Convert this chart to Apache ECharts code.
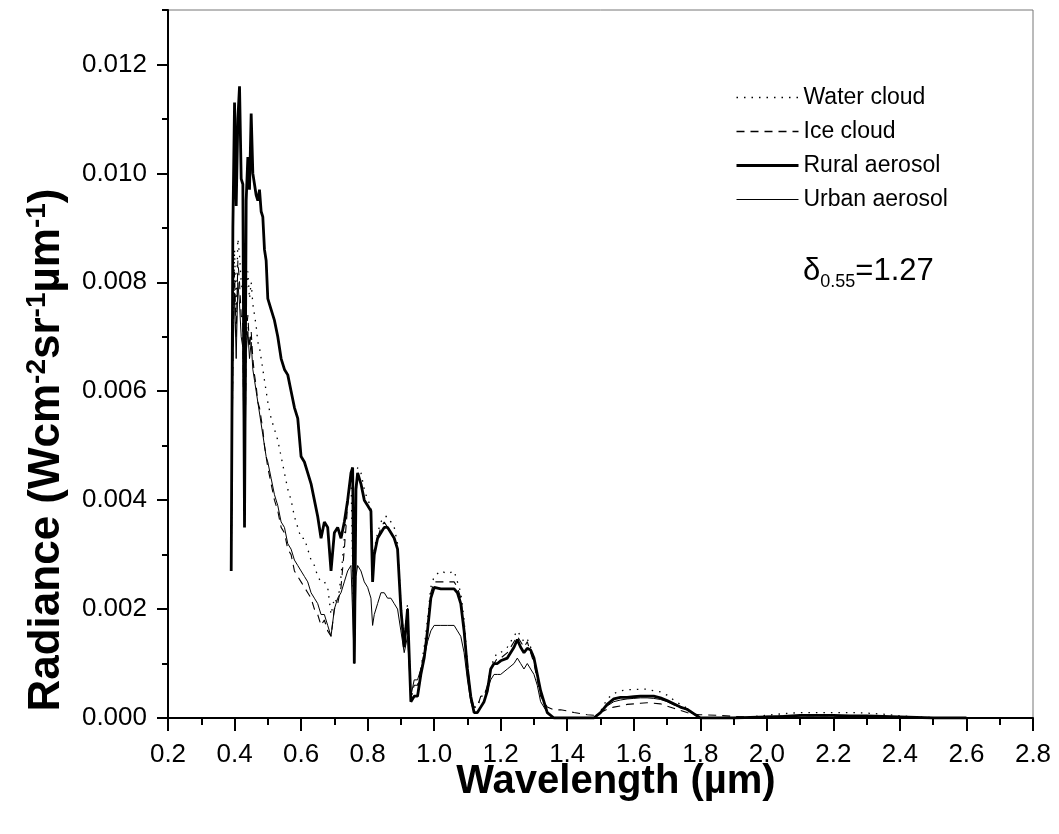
<!DOCTYPE html>
<html>
<head>
<meta charset="utf-8">
<script src="https://cdn.jsdelivr.net/npm/echarts@6/dist/echarts.min.js"></script>
<style>html,body{margin:0;padding:0;background:#fff}#c{width:1059px;height:834px}</style>
</head>
<body>
<div id="c"></div>
<script>
// Wavelength grid (µm)
const wavelength = [
  0.390,0.395,0.400,0.405,0.410,0.415,0.420,0.425,0.430,0.435,0.440,0.445,0.450,0.455,0.460,0.465,0.470,0.475,0.480,0.485,0.490,0.495,0.500,
  0.51,0.52,0.53,0.54,0.55,0.56,0.57,0.58,0.59,0.60,0.61,0.62,0.63,0.64,0.65,0.66,0.67,0.68,0.69,0.70,0.71,0.72,0.73,0.74,0.75,
  0.755,0.760,0.765,
  0.77,0.78,0.79,0.80,0.81,
  0.815,
  0.82,0.83,0.84,0.85,0.86,0.87,0.88,0.89,0.90,0.91,0.92,0.93,0.94,0.95,0.96,0.97,0.98,0.99,1.00,
  1.02,1.04,1.06,
  1.07,1.08,1.09,1.10,1.11,1.12,1.13,1.14,1.15,1.16,1.17,1.18,1.19,1.20,
  1.22,1.24,
  1.25,1.26,1.27,1.28,1.29,1.30,1.31,1.32,
  1.34,1.36,1.38,1.40,1.42,1.44,1.46,1.48,1.50,1.52,1.54,1.56,1.58,1.60,1.62,1.64,1.66,1.68,1.70,1.72,1.74,1.76,1.78,1.80,
  1.85,1.90,1.95,2.00,2.05,2.10,2.15,2.20,2.25,2.30,2.35,2.40,2.45,2.50,2.55,2.60
];

const waterCloud = [
  0.0027,0.0070,0.0086,0.0074,0.0088,0.0085,0.0080,0.0078,0.0040,0.0078,0.0082,0.0077,0.0080,0.0076,0.0074,0.0072,0.0069,0.0068,0.0066,0.0064,0.0062,0.0060,0.0058,
  0.0055,0.0053,0.0051,0.0048,0.0045,0.0042,0.0040,0.0037,0.0035,0.0033,0.0033,0.0031,0.0029,0.0028,0.0026,0.0025,0.0025,0.0024,0.0019,0.0022,0.0021,0.0026,0.0033,0.0040,0.0045,
  0.0045,0.0011,0.0042,
  0.0046,0.0045,0.0042,0.0040,0.0039,
  0.0027,
  0.0031,0.0034,0.0036,0.0037,0.0037,0.0036,0.0035,0.0032,0.0021,0.0014,0.0021,0.0004,0.0005,0.0005,0.0009,0.0013,0.0018,0.0024,0.0026,
  0.0027,0.00265,0.0027,
  0.0025,0.0023,0.0018,0.0010,0.0004,0.0002,0.0002,0.0004,0.0004,0.0006,0.0009,0.0011,0.0012,0.0012,
  0.0013,0.0015,
  0.0016,0.0015,0.0014,0.00145,0.0013,0.0011,0.0008,0.0005,
  0.0001,0,0,0,0,0,0,0,0.00012,0.00035,0.00045,0.0005,0.00052,0.00052,0.00053,0.00053,0.0005,0.00048,0.00042,0.00033,0.00025,0.00018,0.00008,0,
  0,0,0.00002,0.00005,0.00008,0.0001,0.0001,0.0001,0.0001,0.00009,0.00007,0.00004,0.00002,0.00001,0,0
];

const iceCloud = [
  0.0027,0.0068,0.0082,0.0070,0.0084,0.0080,0.0074,0.0072,0.0038,0.0070,0.0074,0.0068,0.0071,0.0066,0.0063,0.0061,0.0058,0.0057,0.0055,0.0053,0.0050,0.0048,0.0046,
  0.0043,0.0040,0.0038,0.0035,0.0034,0.0031,0.0030,0.0027,0.0026,0.0025,0.0024,0.0023,0.0022,0.0020,0.0019,0.0017,0.0018,0.0016,0.0015,0.0020,0.0021,0.0024,0.0031,0.0039,0.0044,
  0.0045,0.0010,0.0041,
  0.0045,0.0043,0.0040,0.0039,0.0038,
  0.0026,
  0.0030,0.0033,0.0035,0.0036,0.0035,0.0034,0.0033,0.0031,0.0020,0.0013,0.0020,0.0004,0.0006,0.0006,0.0009,0.0012,0.0016,0.0023,0.0025,
  0.0025,0.0025,0.0025,
  0.0024,0.0022,0.0017,0.0010,0.0004,0.0002,0.0002,0.0004,0.0004,0.0006,0.0009,0.0010,0.0011,0.0011,
  0.0012,0.0014,
  0.0015,0.0014,0.0013,0.0014,0.0012,0.0010,0.0007,0.0004,
  0.0002,0.00015,0.00015,0.00013,0.0001,0.00008,0.00006,0.00005,0.0001,0.00016,0.0002,0.00022,0.00025,0.00026,0.00027,0.00028,0.00027,0.00026,0.00022,0.00018,0.00014,0.0001,0.00007,0.00006,
  0.00005,0.00003,0.00002,0.00003,0.00004,0.00004,0.00004,0.00004,0.00003,0.00003,0.00002,0.00001,0.00001,0,0,0
];

const ruralAerosol = [
  0.0027,0.0090,0.0113,0.0094,0.0110,0.0116,0.0099,0.0098,0.0035,0.0095,0.0103,0.0097,0.0111,0.0100,0.0098,0.0096,0.0095,0.0097,0.0093,0.0092,0.0086,0.0084,0.0077,
  0.0075,0.0073,0.0070,0.0066,0.0064,0.0063,0.0060,0.0057,0.0055,0.0048,0.0047,0.0045,0.0043,0.0040,0.0037,0.0033,0.0036,0.0035,0.0027,0.0034,0.0035,0.0033,0.0036,0.0040,0.0045,
  0.0046,0.0010,0.0042,
  0.0045,0.0043,0.0040,0.0039,0.0038,
  0.0025,
  0.0030,0.0033,0.0034,0.0035,0.0035,0.0034,0.0033,0.0031,0.0020,0.0013,0.0020,0.0003,0.0004,0.0004,0.0008,0.0011,0.0016,0.0022,0.0024,
  0.00237,0.00237,0.00237,
  0.0023,0.0021,0.0016,0.0009,0.0004,0.0001,0.0001,0.0002,0.0003,0.0005,0.0009,0.0010,0.0010,0.00105,
  0.0011,0.0013,
  0.00144,0.0013,0.0012,0.00128,0.00125,0.0011,0.0008,0.0005,
  0.0001,0,0,0,0,0,0,0,0.0001,0.00025,0.00035,0.00038,0.00038,0.00039,0.0004,0.0004,0.0004,0.00037,0.00032,0.00026,0.0002,0.00016,0.00008,0,
  0,0,0.00001,0.00002,0.00003,0.00005,0.00005,0.00005,0.00004,0.00004,0.00003,0.00002,0.00001,0,0,0
];

const urbanAerosol = [
  0.0027,0.0065,0.0078,0.0066,0.0080,0.0076,0.0070,0.0068,0.0036,0.0067,0.0071,0.0066,0.0069,0.0064,0.0062,0.0060,0.0058,0.0056,0.0054,0.0052,0.0050,0.0048,0.0047,
  0.0044,0.0041,0.0039,0.0036,0.0035,0.0032,0.0031,0.0029,0.0028,0.0027,0.0026,0.0025,0.0023,0.0022,0.0021,0.0019,0.0019,0.0017,0.0015,0.0020,0.0022,0.0023,0.0025,0.0027,0.0028,
  0.0028,0.0010,0.0026,
  0.0028,0.0027,0.0025,0.0024,0.0022,
  0.0017,
  0.0019,0.0021,0.0023,0.0023,0.0022,0.0022,0.0021,0.0020,0.0016,0.0012,0.0015,0.0004,0.0007,0.0007,0.0009,0.0011,0.0014,0.0016,0.0017,
  0.0017,0.0017,0.0017,
  0.0016,0.0015,0.0012,0.0007,0.0003,0.0001,0.0001,0.0002,0.0003,0.0005,0.0007,0.0008,0.0008,0.0008,
  0.0009,0.0010,
  0.0011,0.0010,0.0009,0.0010,0.0009,0.0008,0.0006,0.0003,
  0.0001,0,0,0,0,0,0,0,0.0001,0.00022,0.0003,0.00033,0.00035,0.00036,0.00037,0.00037,0.00036,0.00034,0.0003,0.00024,0.0002,0.00015,0.00007,0,
  0,0,0.00001,0.00002,0.00003,0.00004,0.00004,0.00004,0.00003,0.00003,0.00002,0.00001,0,0,0,0
];

const seriesNames = ['Water cloud', 'Ice cloud', 'Rural aerosol', 'Urban aerosol'];
const majorYTicks = [0, 0.002, 0.004, 0.006, 0.008, 0.010, 0.012];

const FONT = '"Liberation Sans", Arial, sans-serif';
const pairs = arr => wavelength.map((w, i) => [w, arr[i]]);
const lineStyles = [
  {color: '#000', width: 1.3, type: [1.5, 6]},
  {color: '#000', width: 1.1, type: [8, 6]},
  {color: '#000', width: 2.8, type: 'solid'},
  {color: '#000', width: 1, type: 'solid'}
];

const chart = echarts.init(document.getElementById('c'), null, {renderer: 'canvas'});
chart.setOption({
  animation: false,
  backgroundColor: '#fff',
  grid: {left: 168, top: 10, width: 865, height: 708, show: true, borderColor: '#777', borderWidth: 1, backgroundColor: 'transparent'},
  legend: {
    orient: 'vertical', left: 735, top: 86, itemWidth: 62, itemHeight: 14, itemGap: 11, padding: 0,
    data: seriesNames.map((n, i) => ({name: n, lineStyle: {width: i === 2 ? 3 : (i === 3 ? 1.2 : 1.3)}})),
    itemStyle: {color: 'rgba(0,0,0,0)', borderWidth: 0, opacity: 0},
    textStyle: {fontFamily: FONT, fontSize: 23, color: '#000'}
  },
  xAxis: {
    type: 'value', min: 0.2, max: 2.8, interval: 0.2,
    axisLine: {show: true, onZero: false, lineStyle: {color: '#000', width: 2}},
    axisTick: {show: true, length: 13, lineStyle: {color: '#000', width: 2}},
    minorTick: {show: true, splitNumber: 2, length: 7, lineStyle: {color: '#000', width: 2}},
    axisLabel: {formatter: v => v.toFixed(1), fontFamily: FONT, fontSize: 26, color: '#000', margin: 24},
    splitLine: {show: false}, minorSplitLine: {show: false}
  },
  yAxis: [{
    type: 'value', min: 0, max: 0.013, interval: 0.001,
    axisLine: {show: true, onZero: false, lineStyle: {color: '#000', width: 2}},
    axisTick: {show: true, length: 6, lineStyle: {color: '#000', width: 2}},
    axisLabel: {formatter: v => (Math.round(v * 1000) % 2 === 0 && v < 0.0125) ? v.toFixed(3) : '', fontFamily: FONT, fontSize: 26, color: '#000', margin: 21},
    splitLine: {show: false}
  }, {
    type: 'value', min: 0, max: 0.013, interval: 0.002, position: 'left', offset: 0,
    axisLine: {show: false},
    axisTick: {show: true, length: 11, customValues: majorYTicks, lineStyle: {color: '#000', width: 2}},
    axisLabel: {show: false},
    splitLine: {show: false}
  }],
  series: [
    {name: seriesNames[0], type: 'line', symbol: 'none', data: pairs(waterCloud), lineStyle: lineStyles[0], itemStyle: {color: '#000'}, z: 2},
    {name: seriesNames[1], type: 'line', symbol: 'none', data: pairs(iceCloud), lineStyle: lineStyles[1], itemStyle: {color: '#000'}, z: 3},
    {name: seriesNames[2], type: 'line', symbol: 'none', data: pairs(ruralAerosol), lineStyle: lineStyles[2], itemStyle: {color: '#000'}, z: 4},
    {name: seriesNames[3], type: 'line', symbol: 'none', data: pairs(urbanAerosol), lineStyle: lineStyles[3], itemStyle: {color: '#000'}, z: 5}
  ],
  graphic: [
    {
      type: 'text', x: 616, y: 782,
      style: {text: 'Wavelength (µm)', fontFamily: FONT, fontSize: 40, fontWeight: 'bold', fill: '#000', align: 'center', verticalAlign: 'middle'}
    },
    {
      type: 'text', x: 47, y: 450, rotation: Math.PI / 2,
      style: {
        text: '{m|Radiance (Wcm}{s|-2}{m|sr}{s|-1}{m|µm}{s|-1}{m|)}',
        align: 'center', verticalAlign: 'middle', fill: '#000',
        rich: {
          m: {fontFamily: FONT, fontSize: 44, fontWeight: 'bold', lineHeight: 48, fill: '#000'},
          s: {fontFamily: FONT, fontSize: 28, fontWeight: 'bold', lineHeight: 28, verticalAlign: 'top', fill: '#000'}
        }
      }
    },
    {
      type: 'text', x: 803, y: 271,
      style: {
        text: '{m|δ}{s|0.55}{m|=1.27}',
        align: 'left', verticalAlign: 'middle', fill: '#000',
        rich: {
          m: {fontFamily: FONT, fontSize: 31, lineHeight: 40, fill: '#000'},
          s: {fontFamily: FONT, fontSize: 18, lineHeight: 18, verticalAlign: 'bottom', fill: '#000'}
        }
      }
    }
  ]
});
</script>
</body>
</html>
